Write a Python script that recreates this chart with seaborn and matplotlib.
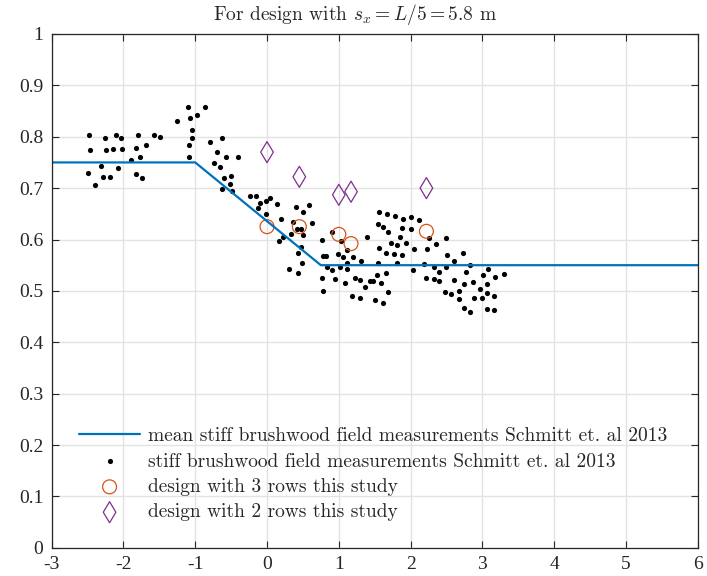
import matplotlib
matplotlib.use("Agg")
import matplotlib.pyplot as plt
import seaborn as sns
import pandas as pd

# mean line (Schmitt et al. 2013)
mean_x = [-3, -1, 0.75, 6]
mean_y = [0.75, 0.75, 0.55, 0.55]

# field measurements
field_x = [-2.48, -2.46, -2.25, -2.24, -2.14, -2.11, -2.03, -2.02, -1.80, -1.83, -1.69, -1.77,
           -1.90, -1.58, -1.49, -2.31, -2.50, -2.29, -2.19, -2.08, -2.39, -1.83, -1.74, -1.25,
           -1.10, -0.87, -0.98, -1.07, -1.04, -1.05, -1.09, -1.08, -0.80, -0.63, -0.69, -0.57,
           -0.41, -0.74, -0.66, -0.60, -0.50, -0.52, -0.62, -0.49,
           -0.23, -0.15, -0.10, -0.12, -0.01, 0.04, 0.14, -0.02, 0.41, 0.50, 0.59, 0.19,
           0.17, 0.22, 0.33, 0.36, 0.42, 0.48, 0.50, 0.62, 0.47, 0.43, 0.49, 0.31, 0.43,
           0.77, 0.78, 0.82, 0.83, 0.76, 0.91, 0.95, 0.78, 0.91, 1.01, 0.99, 1.03, 1.06,
           1.12, 1.11, 1.11, 1.20, 1.31, 1.09, 1.22, 1.29, 1.36, 1.19, 1.30, 1.39,
           1.44, 1.47, 1.53, 1.59, 1.66, 1.68, 1.50, 1.61, 1.56, 1.67, 1.78, 1.90, 2.01,
           2.12, 1.55, 1.61, 1.69, 1.88, 2.01, 1.85, 1.72, 1.81, 1.93, 1.56, 1.66, 1.77,
           1.88, 2.05, 1.55, 1.81, 2.03,
           2.26, 2.49, 2.23, 2.36, 2.50, 2.73, 2.60, 2.18, 2.32, 2.49, 2.83, 2.40, 2.77,
           2.22, 2.32, 2.40, 2.60, 3.08, 3.01, 3.18, 3.30, 2.75, 2.87, 3.06, 2.48, 2.56,
           2.68, 2.68, 2.88, 2.96, 2.99, 3.07, 3.16, 2.75, 2.83, 3.06, 3.16]
field_y = [0.804, 0.774, 0.798, 0.774, 0.776, 0.804, 0.798, 0.776, 0.804, 0.779, 0.783, 0.760,
           0.754, 0.804, 0.800, 0.743, 0.729, 0.722, 0.722, 0.739, 0.706, 0.727, 0.720, 0.830,
           0.858, 0.858, 0.842, 0.837, 0.814, 0.797, 0.783, 0.761, 0.790, 0.798, 0.771, 0.760,
           0.760, 0.748, 0.741, 0.720, 0.724, 0.708, 0.699, 0.694,
           0.685, 0.685, 0.672, 0.662, 0.675, 0.680, 0.669, 0.650, 0.663, 0.654, 0.667, 0.640,
           0.597, 0.605, 0.611, 0.634, 0.620, 0.620, 0.608, 0.632, 0.585, 0.574, 0.555, 0.543, 0.535,
           0.600, 0.568, 0.568, 0.546, 0.526, 0.540, 0.524, 0.499, 0.615, 0.546, 0.571, 0.598, 0.566,
           0.579, 0.554, 0.542, 0.566, 0.559, 0.515, 0.526, 0.522, 0.508, 0.490, 0.487, 0.604,
           0.520, 0.520, 0.531, 0.516, 0.535, 0.498, 0.482, 0.476, 0.653, 0.650, 0.646, 0.640, 0.643,
           0.638, 0.631, 0.625, 0.615, 0.622, 0.620, 0.605, 0.593, 0.589, 0.594, 0.584, 0.573, 0.572,
           0.570, 0.582, 0.555, 0.555, 0.541,
           0.603, 0.603, 0.582, 0.591, 0.569, 0.573, 0.559, 0.553, 0.547, 0.547, 0.550, 0.537, 0.537,
           0.526, 0.524, 0.520, 0.522, 0.543, 0.531, 0.527, 0.533, 0.514, 0.518, 0.514, 0.497, 0.494,
           0.499, 0.485, 0.486, 0.503, 0.486, 0.495, 0.490, 0.466, 0.458, 0.464, 0.462]

# designs from this study
rows3_x = [0.0, 0.45, 1.0, 1.17, 2.22]
rows3_y = [0.625, 0.625, 0.610, 0.592, 0.616]
rows2_x = [0.0, 0.45, 1.0, 1.17, 2.22]
rows2_y = [0.770, 0.722, 0.687, 0.693, 0.700]

sns.set_theme(style="ticks")
plt.rcParams["font.family"] = ["Liberation Serif", "DejaVu Serif"]
plt.rcParams["mathtext.fontset"] = "cm"
plt.rcParams["axes.unicode_minus"] = False

fig = plt.figure(figsize=(7.07, 5.76), dpi=100)
ax = fig.add_axes([0.073, 0.049, 0.914, 0.892])

sns.lineplot(x=mean_x, y=mean_y, ax=ax, color="#0072BD", linewidth=1.6,
             label="mean stiff brushwood field measurements Schmitt et. al 2013")
sns.scatterplot(x=field_x, y=field_y, ax=ax, color="black", s=14, linewidth=0,
                label="stiff brushwood field measurements Schmitt et. al 2013")
sns.scatterplot(x=rows3_x, y=rows3_y, ax=ax, marker="o", s=100, facecolor="none",
                edgecolor="#D95319", linewidth=0.9, label="design with 3 rows this study")
sns.scatterplot(x=rows2_x, y=rows2_y, ax=ax, marker="d", s=115, facecolor="none",
                edgecolor="#7E2F8E", linewidth=0.9, label="design with 2 rows this study")

ax.set_xlim(-3, 6)
ax.set_ylim(0, 1)
ax.set_xticks(range(-3, 7))
ax.set_yticks([i / 10 for i in range(11)])
ax.set_yticklabels(["0", "0.1", "0.2", "0.3", "0.4", "0.5", "0.6", "0.7", "0.8", "0.9", "1"])
ax.grid(True, color="#e3e3e3", linewidth=1)
ax.set_axisbelow(True)
ax.tick_params(direction="in", length=5, width=0.8, color="#262626", labelsize=14,
               top=True, right=True, labelcolor="#262626", pad=6)
for sp in ax.spines.values():
    sp.set_visible(True)
    sp.set_color("#262626")
    sp.set_linewidth(0.9)

ax.set_title("For design with $s_x = L/5 = 5.8$ m", fontsize=14, family="cmr10",
             pad=10, x=0.47)

leg = ax.legend(loc="lower left", bbox_to_anchor=(0.022, 0.025), frameon=False,
                prop={"family": "cmr10", "size": 14.0}, handlelength=3.1,
                handletextpad=0.45, labelspacing=0.38, borderaxespad=0.3)

fig.savefig("out.png", dpi=100)
